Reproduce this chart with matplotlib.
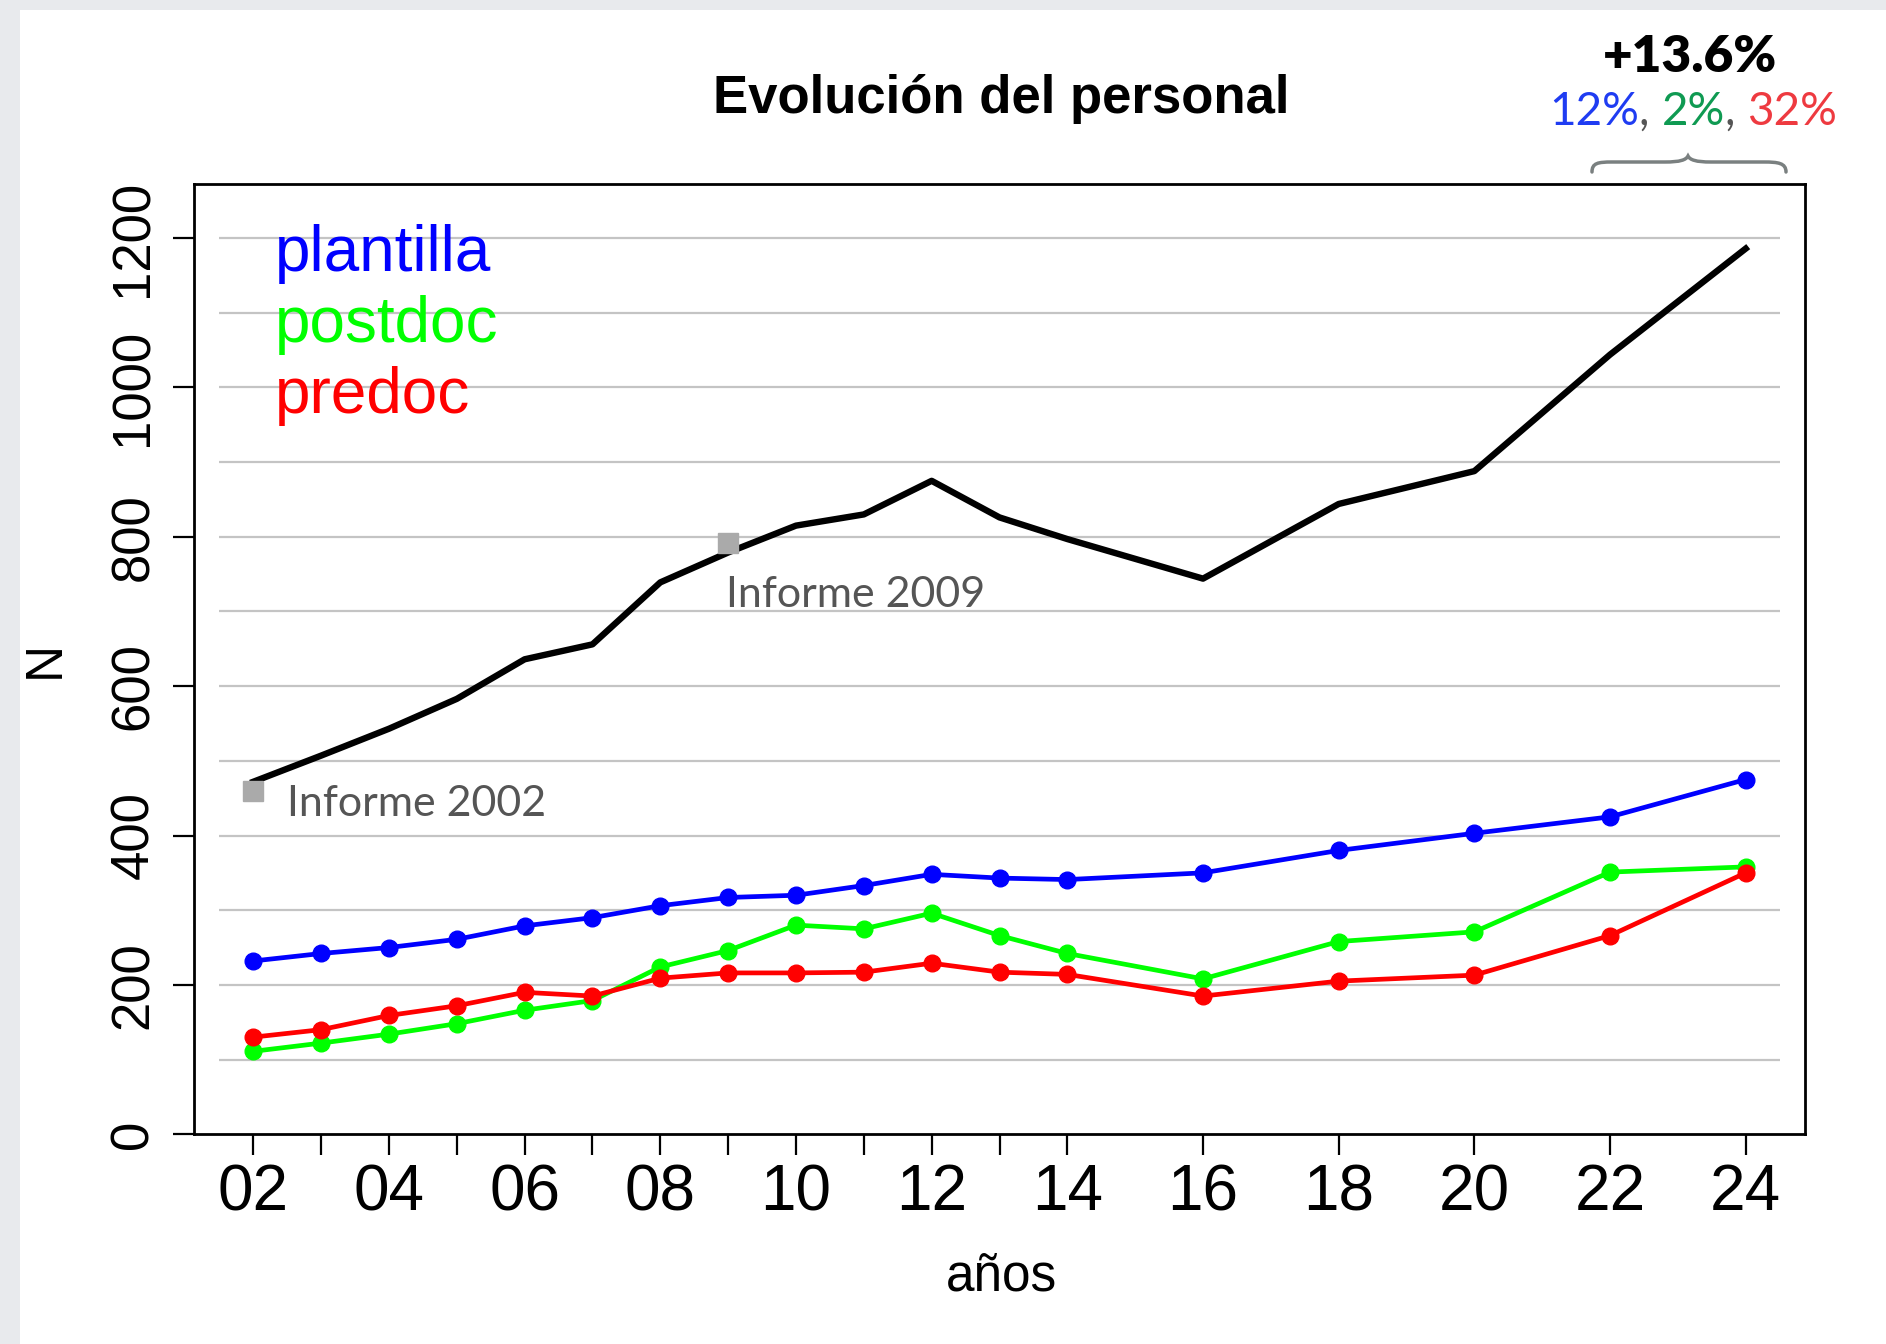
import matplotlib
matplotlib.use("Agg")
import matplotlib.pyplot as plt
from matplotlib.patches import Rectangle, PathPatch
from matplotlib.path import Path
from matplotlib.offsetbox import TextArea, HPacker, AnnotationBbox

# ---------------- data ----------------
years = [2002, 2003, 2004, 2005, 2006, 2007, 2008, 2009, 2010, 2011, 2012,
         2013, 2014, 2016, 2018, 2020, 2022, 2024]
plantilla = [232, 242, 250, 261, 279, 290, 306, 317, 320, 333, 348,
             343, 341, 350, 380, 403, 425, 475]
postdoc = [111, 122, 134, 148, 166, 179, 224, 246, 280, 275, 296,
           266, 242, 208, 258, 271, 351, 358]
predoc = [130, 140, 159, 172, 190, 185, 209, 216, 216, 217, 229,
          217, 214, 185, 205, 213, 266, 350]
total = [472, 507, 543, 583, 636, 656, 739, 779, 815, 830, 875,
         826, 797, 744, 844, 888, 1044, 1186]

informe_years = [2002, 2009]
informe_values = [460, 792]
informe_labels = ["Informe 2002", "Informe 2009"]

label_years = [2002, 2004, 2006, 2008, 2010, 2012, 2014, 2016, 2018, 2020, 2022, 2024]
label_texts = ["02", "04", "06", "08", "10", "12", "14", "16", "18", "20", "22", "24"]
y_ticks = [0, 200, 400, 600, 800, 1000, 1200]
grid_values = [100, 200, 300, 400, 500, 600, 700, 800, 900, 1000, 1100, 1200]

legend_labels = ["plantilla", "postdoc", "predoc"]
series_colors = ["#0000ff", "#00ff00", "#ff0000"]
growth_total = "+13.6%"
growth_parts = ["12%", "2%", "32%"]
growth_colors = ["#1f3cf2", "#0f9a52", "#ee3a40"]

title = "Evolución del personal"
xlabel = "años"
ylabel = "N"

# ---------------- figure ----------------
W, H = 1886, 1344
SANS = ["Liberation Sans", "DejaVu Sans"]
HUM = ["Lato", "DejaVu Sans"]

fig = plt.figure(figsize=(W / 100, H / 100), dpi=100)
fig.patch.set_facecolor("#e8eaed")

bg = fig.add_axes([0, 0, 1, 1], zorder=-5)
bg.set_xlim(0, W)
bg.set_ylim(H, 0)
bg.axis("off")
bg.add_patch(Rectangle((20, 10), W - 20, H - 10, facecolor="white", edgecolor="none"))

L, R, T, B = 193.6, 1805.4, 184.0, 1134.2
ax = fig.add_axes([L / W, 1 - B / H, (R - L) / W, (B - T) / H])
ax.set_facecolor("white")
ax.set_xlim(2001.12, 2024.88)
ax.set_ylim(0, 1272.5)

ax.hlines(grid_values, 2001.5, 2024.5, color="#c4c4c4", lw=1.6, zorder=1)

ax.plot(years, total, color="black", lw=4.6, zorder=3)
for vals, c in zip([plantilla, postdoc, predoc], series_colors):
    ax.plot(years, vals, "-o", color=c, lw=3.4, ms=12, zorder=4)

ax.plot(informe_years, informe_values, "s", color="#aaaaaa", ms=14, zorder=5)
ax.text(2002.49, 426, informe_labels[0], fontsize=31, family=HUM, color="#555555",
        va="baseline", ha="left", zorder=6)
ax.text(2008.97, 706, informe_labels[1], fontsize=31, family=HUM, color="#555555",
        va="baseline", ha="left", zorder=6)

for s in ax.spines.values():
    s.set_linewidth(2.0)

ax.set_xticks(years)
ax.set_xticklabels([label_texts[label_years.index(y)] if y in label_years else "" for y in years],
                   fontsize=46, family=SANS)
ax.set_yticks(y_ticks)
ax.set_yticklabels([str(v) for v in y_ticks], fontsize=38, family=SANS,
                   rotation=90, va="center")
ax.tick_params(axis="x", length=15, width=1.6, pad=6, direction="out")
ax.tick_params(axis="y", length=15, width=1.6, pad=10, direction="out")

# legend text
for i, (lab, c) in enumerate(zip(legend_labels, series_colors)):
    fig.text(275 / W, 1 - (271 + 71 * i) / H, lab, color=c, fontsize=46,
             family=SANS, ha="left", va="baseline")

# titles
fig.text(1001 / W, 1 - 99 / H, title, ha="center", va="center", fontsize=38,
         fontweight="bold", family=SANS)
fig.text(1001 / W, 1 - 1277 / H, xlabel, ha="center", va="center", fontsize=37, family=SANS)
fig.text(45 / W, 1 - 659 / H, ylabel, ha="center", va="center", fontsize=37,
         family=SANS, rotation=90)

# growth annotation
fig.text(1690 / W, 1 - 72 / H, growth_total, ha="center", va="baseline", fontsize=37,
         fontweight="heavy", family=HUM)
parts = []
for i, (p, c) in enumerate(zip(growth_parts, growth_colors)):
    parts.append(TextArea(p, textprops=dict(color=c, fontsize=33, family=HUM,
                                            fontweight="normal")))
    if i < len(growth_parts) - 1:
        parts.append(TextArea(", ", textprops=dict(color="#555555", fontsize=33, family=HUM,
                                                   fontweight="normal")))
pack = HPacker(children=parts, align="baseline", pad=0, sep=0)
ab = AnnotationBbox(pack, (1693 / W, 1 - 112 / H), xycoords="figure fraction",
                    box_alignment=(0.5, 0.5), frameon=False)
fig.add_artist(ab)

# brace
verts = [(1592, 172), (1592, 163), (1598, 162), (1612, 162),
         (1665, 162), (1680, 162), (1686, 160), (1688, 156),
         (1690, 160), (1696, 162), (1711, 162),
         (1764, 162), (1778, 162), (1786, 163), (1786, 172)]
codes = [Path.MOVETO, Path.CURVE4, Path.CURVE4, Path.CURVE4,
         Path.LINETO, Path.CURVE4, Path.CURVE4, Path.CURVE4,
         Path.CURVE4, Path.CURVE4, Path.CURVE4,
         Path.LINETO, Path.CURVE4, Path.CURVE4, Path.CURVE4]
bg.add_patch(PathPatch(Path(verts, codes), facecolor="none", edgecolor="#7a8080", lw=2.5,
                       capstyle="round"))

fig.savefig("out.png", dpi=100, facecolor=fig.get_facecolor())
